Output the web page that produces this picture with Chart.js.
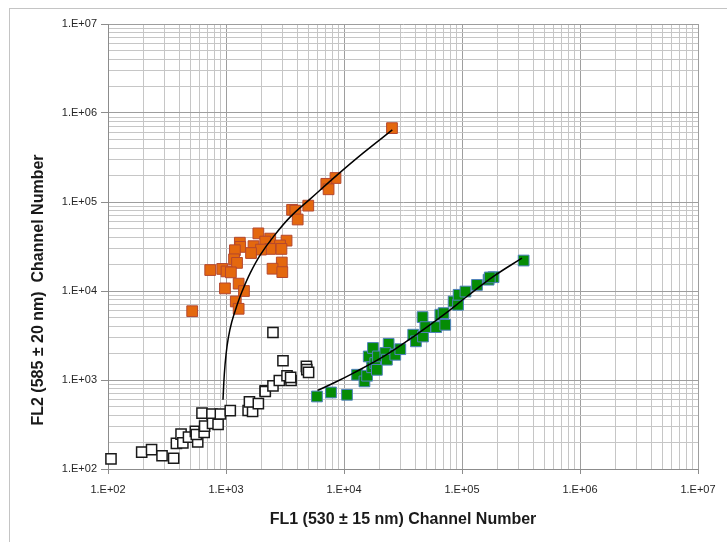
<!DOCTYPE html>
<html><head><meta charset="utf-8">
<script src="https://cdn.jsdelivr.net/npm/chart.js@4.4.0/dist/chart.umd.min.js"></script>
<style>
html,body{margin:0;padding:0;background:#fff;}
#wrap{position:relative;width:727px;height:542px;overflow:hidden;}
#frame{position:absolute;left:9px;top:8px;width:800px;height:600px;border:1px solid #c4c4c4;}
canvas{position:absolute;left:0;top:0;}
</style></head><body>
<div id="wrap"><div id="frame"></div><canvas id="c" width="727" height="542"></canvas></div>
<script>
const orangeX = [25500, 8470, 7080, 7400, 4980, 3630, 3870, 4050, 1880, 3260, 2370, 2150, 1310, 1320, 1710, 2870, 2950, 2370, 1980, 1630, 1190, 1170, 1240, 2970, 2480, 3000, 735, 929, 1010, 1100, 980, 1280, 1420, 1210, 1280, 517];
const orangeY = [676000, 186000, 160000, 139000, 91000, 81700, 80000, 63600, 44400, 36800, 38800, 35900, 34900, 31300, 31900, 32500, 29700, 29700, 29200, 26700, 28700, 22700, 20700, 20900, 17800, 16300, 17200, 17700, 16600, 16200, 10700, 12100, 10000, 7630, 6310, 5930];

const whiteX = [106, 193, 234, 287, 360, 380, 416, 431, 481, 550, 576, 560, 653, 659, 626, 761, 769, 857, 896, 1087, 1540, 1680, 1580, 1880, 2150, 2150, 2500, 2830, 3290, 3560, 3530, 3040, 2500, 4800, 4840, 5010];
const whiteY = [130, 155, 165, 141, 132, 194, 247, 197, 228, 265, 201, 244, 258, 303, 425, 415, 326, 318, 415, 452, 454, 443, 568, 543, 757, 743, 861, 988, 1117, 988, 1070, 1645, 3420, 1420, 1306, 1216];

const greenX = [5900, 7760, 10600, 12900, 14900, 15700, 16200, 17600, 17300, 18400, 19000, 19400, 23900, 22400, 23100, 27200, 30000, 38600, 40700, 46300, 46700, 48900, 60500, 65500, 69800, 72100, 84900, 92500, 93600, 107000, 134000, 168000, 185000, 172000, 333000];
const greenY = [653, 724, 682, 1146, 964, 1117, 1840, 2290, 1390, 1550, 1300, 1840, 2550, 2010, 1690, 1920, 2220, 3230, 2720, 5090, 3080, 3930, 3930, 5410, 5640, 4170, 7620, 7000, 9060, 9860, 11700, 13400, 14300, 14200, 22000];

const orangeTrendX = [943, 967, 1000, 1046, 1120, 1235, 1375, 1607, 1953, 2516, 3506, 5182, 8775, 14580, 25670];
const orangeTrendY = [600, 1145, 1920, 2981, 4508, 6818, 10050, 16000, 25480, 40600, 68060, 108400, 201600, 356000, 645000];

const greenTrendX = [5970, 8170, 12000, 21700, 38900, 69800, 110000, 185000, 322000];
const greenTrendY = [764, 925, 1197, 1840, 3080, 5390, 8670, 14600, 23400];

const xTickLabels = ['1.E+02', '1.E+03', '1.E+04', '1.E+05', '1.E+06', '1.E+07'];
const yTickLabels = ['1.E+02', '1.E+03', '1.E+04', '1.E+05', '1.E+06', '1.E+07'];
const xTitle = 'FL1 (530 \u00B1 15 nm) Channel Number';
const yTitle = 'FL2 (585 \u00B1 20 nm)  Channel Number';

const pts = (xs, ys) => xs.map((x, i) => ({x: x, y: ys[i]}));

function logTicks(min, max) {
  const out = [];
  for (let e = Math.log10(min); e < Math.log10(max); e++) {
    for (let m = 1; m <= 9; m++) out.push({value: m * Math.pow(10, e)});
  }
  out.push({value: max});
  return out;
}
const isMajor = v => Math.abs(Math.log10(v) - Math.round(Math.log10(v))) < 1e-9;
const labelFor = (labels, v) => isMajor(v) ? labels[Math.round(Math.log10(v)) - 2] : '';

const yTitlePlugin = {
  id: 'yTitle',
  afterDraw(chart) {
    const ctx = chart.ctx;
    ctx.save();
    ctx.translate(39, 290);
    ctx.rotate(-Math.PI / 2);
    ctx.font = 'bold 16px "Liberation Sans", Arial, sans-serif';
    ctx.fillStyle = '#1a1a1a';
    ctx.textAlign = 'center';
    ctx.textBaseline = 'middle';
    ctx.fillText(yTitle, 0, 0);
    ctx.restore();
  }
};

const gridCfg = {
  color: c => (c.tick && isMajor(c.tick.value)) ? '#9e9e9e' : '#c6c6c6',
  tickColor: c => (c.tick && isMajor(c.tick.value)) ? '#8c8c8c' : 'rgba(0,0,0,0)',
  lineWidth: 1,
  drawTicks: true
};

new Chart(document.getElementById('c'), {
  type: 'scatter',
  data: {
    datasets: [
      {data: pts(orangeTrendX, orangeTrendY), showLine: true, borderColor: '#000', borderWidth: 1.5, pointRadius: 0, tension: 0.4, fill: false, clip: false},
      {data: pts(greenTrendX, greenTrendY), showLine: true, borderColor: '#000', borderWidth: 1.5, pointRadius: 0, tension: 0.4, fill: false, clip: false},
      {data: pts(orangeX, orangeY), pointStyle: 'rect', pointRadius: 7.6, backgroundColor: '#e4680e', borderColor: '#b5472e', borderWidth: 1, clip: false},
      {data: pts(greenX, greenY), pointStyle: 'rect', pointRadius: 7.6, backgroundColor: '#058c05', borderColor: '#4f81bd', borderWidth: 1, clip: false},
      {data: pts(whiteX, whiteY), pointStyle: 'rect', pointRadius: 7.2, backgroundColor: '#ffffff', borderColor: '#1a1a1a', borderWidth: 1.5, clip: false}
    ]
  },
  options: {
    responsive: false,
    animation: false,
    events: [],
    layout: {padding: {left: 0, top: 24, right: 29, bottom: 0}},
    plugins: {legend: {display: false}, tooltip: {enabled: false}},
    scales: {
      x: {
        type: 'logarithmic', min: 100, max: 1e7,
        afterBuildTicks: s => { s.ticks = logTicks(100, 1e7); },
        afterFit: s => { s.height = 73; },
        grid: Object.assign({tickLength: 5}, gridCfg),
        border: {color: '#8c8c8c'},
        ticks: {autoSkip: false, maxRotation: 0, minRotation: 0, padding: 9, color: '#262626',
                font: {family: '"Liberation Sans", Arial, sans-serif', size: 11},
                callback: v => labelFor(xTickLabels, v)},
        title: {display: true, text: xTitle, color: '#1a1a1a', padding: {top: 0, bottom: 13},
                font: {family: '"Liberation Sans", Arial, sans-serif', size: 16, weight: 'bold'}}
      },
      y: {
        type: 'logarithmic', min: 100, max: 1e7,
        afterBuildTicks: s => { s.ticks = logTicks(100, 1e7); },
        afterFit: s => { s.width = 108; },
        grid: Object.assign({tickLength: 7}, gridCfg),
        border: {color: '#8c8c8c'},
        ticks: {autoSkip: false, padding: 4, color: '#262626',
                font: {family: '"Liberation Sans", Arial, sans-serif', size: 11},
                callback: v => labelFor(yTickLabels, v)}
      }
    }
  },
  plugins: [yTitlePlugin]
});
</script>
</body></html>
